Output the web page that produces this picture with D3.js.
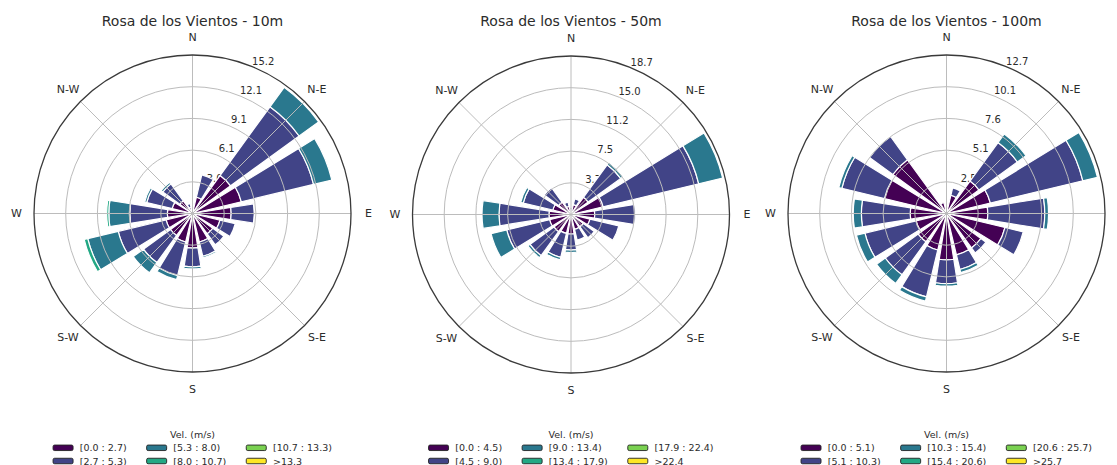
<!DOCTYPE html>
<html>
<head>
<meta charset="utf-8">
<script src="https://cdn.jsdelivr.net/npm/d3@7"></script>
<style>
  body { margin: 0; background: #fff; }
  svg { display: block; }
  text { font-family: "DejaVu Sans", sans-serif; fill: #2b2b2b; }
</style>
</head>
<body>
<svg id="chart" width="1117" height="465"></svg>
<script>
// 16 direction sectors, clockwise from north
const directions = ["N","NNE","NE","ENE","E","ESE","SE","SSE","S","SSW","SW","WSW","W","WNW","NW","NNW"];
const compassLabels = ["N","N-E","E","S-E","S","S-W","W","N-W"];
const binColors = ["#440154","#414487","#2a788e","#22a884","#7ad151","#fde725"];
const legendTitle = "Vel. (m/s)";

// ---- 10 m ----
const title10 = "Rosa de los Vientos - 10m";
const rMax10 = 15.15;
const rTicks10 = ["3.0","6.1","9.1","12.1","15.2"];
const bins10 = ["[0.0 : 2.7)","[2.7 : 5.3)","[5.3 : 8.0)","[8.0 : 10.7)","[10.7 : 13.3)",">13.3"];
const freq10 = [
  [0.4,1.6,4.5,4.8,3.7,2.7,2.4,2.8,3.3,2.8,2.6,2.6,2.4,2.0,1.5,0.6],
  [0.2,2.2,8.1,7.1,2.2,1.5,1.3,1.4,1.8,3.3,3.2,4.7,3.6,2.5,2.0,0.4],
  [0,0,2.3,1.8,0,0,0,0.15,0.2,0.4,1.2,3.0,2.0,0.2,0.2,0.1],
  [0,0,0,0,0,0,0,0,0,0,0,0.35,0.2,0,0,0],
  [0,0,0,0,0,0,0,0,0,0,0,0,0,0,0,0],
  [0,0,0,0,0,0,0,0,0,0,0,0,0,0,0,0]
];

// ---- 50 m ----
const title50 = "Rosa de los Vientos - 50m";
const rMax50 = 18.7;
const rTicks50 = ["3.7","7.5","11.2","15.0","18.7"];
const bins50 = ["[0.0 : 4.5)","[4.5 : 9.0)","[9.0 : 13.4)","[13.4 : 17.9)","[17.9 : 22.4)",">22.4"];
const freq50 = [
  [0.5,1.2,2.5,3.9,2.8,2.3,1.8,1.8,2.3,2.3,2.5,2.6,2.6,2.2,1.8,1.0],
  [0.3,0.7,4.75,11.6,4.8,3.5,1.6,1.3,1.9,2.9,3.5,5.2,5.9,3.6,2.1,0.5],
  [0,0,0.35,2.9,0,0,0,0,0.3,0.3,0.3,1.9,2.0,0.3,0,0],
  [0,0,0,0,0,0,0,0,0,0,0,0,0,0,0,0],
  [0,0,0,0,0,0,0,0,0,0,0,0,0,0,0,0],
  [0,0,0,0,0,0,0,0,0,0,0,0,0,0,0,0]
];

// ---- 100 m ----
const title100 = "Rosa de los Vientos - 100m";
const rMax100 = 12.66;
const rTicks100 = ["2.5","5.1","7.6","10.1","12.7"];
const bins100 = ["[0.0 : 5.1)","[5.1 : 10.3)","[10.3 : 15.4)","[15.4 : 20.6)","[20.6 : 25.7)",">25.7"];
const freq100 = [
  [0.4,1.5,3.2,3.6,3.3,4.8,3.4,3.4,3.7,3.0,2.8,2.5,2.9,5.1,5.3,0.9],
  [0,0.6,3.8,7.6,4.55,1.5,0.5,1.2,1.9,3.85,3.25,4.2,3.9,3.5,2.3,0],
  [0,0,0.85,1.2,0.3,0,0,0.25,0.2,0.35,0.85,0.7,0.65,0.25,0,0],
  [0,0,0,0,0,0,0,0,0,0,0,0,0,0,0,0],
  [0,0,0,0,0,0,0,0,0,0,0,0,0,0,0,0],
  [0,0,0,0,0,0,0,0,0,0,0,0,0,0,0,0]
];

const roses = [
  { title: title10,  rMax: rMax10,  ticks: rTicks10,  bins: bins10,  freq: freq10,  cx: 192.5, cy: 213.5 },
  { title: title50,  rMax: rMax50,  ticks: rTicks50,  bins: bins50,  freq: freq50,  cx: 571,   cy: 214.5 },
  { title: title100, rMax: rMax100, ticks: rTicks100, bins: bins100, freq: freq100, cx: 946.5, cy: 213.5 }
];

const svg = d3.select("#chart");
const R = 158.5;
const opening = 0.8;
const sector = 2 * Math.PI / directions.length;

function drawRose(cfg) {
  const g = svg.append("g").attr("transform", `translate(${cfg.cx},${cfg.cy})`);
  const r = d3.scaleLinear().domain([0, cfg.rMax]).range([0, R]);
  const theta = d3.scaleBand().domain(directions).range([-sector / 2, 2 * Math.PI - sector / 2]);
  const center = d => theta(d) + theta.bandwidth() / 2;
  const tickVals = cfg.ticks.map((t, i) => cfg.rMax * (i + 1) / cfg.ticks.length);
  const labelAngle = Math.PI / 8;

  // radial tick labels (sit beneath the bars)
  g.selectAll("text.rtick").data(tickVals).join("text")
    .attr("class", "rtick")
    .attr("x", v => r(v) * Math.sin(labelAngle) + 10)
    .attr("y", v => -r(v) * Math.cos(labelAngle) - 6)
    .attr("text-anchor", "middle")
    .attr("dominant-baseline", "central")
    .attr("font-size", 10)
    .text((v, i) => cfg.ticks[i]);

  // stacked bars: one wedge per speed bin per direction
  const stacked = [];
  directions.forEach((d, di) => {
    let acc = 0;
    cfg.freq.forEach((series, bi) => {
      const v = series[di];
      if (v > 0) stacked.push({ dir: d, bin: bi, r0: acc, r1: acc + v });
      acc += v;
    });
  });
  const arc = d3.arc()
    .innerRadius(s => r(s.r0))
    .outerRadius(s => r(s.r1))
    .startAngle(s => center(s.dir) - sector * opening / 2)
    .endAngle(s => center(s.dir) + sector * opening / 2);
  g.append("g").selectAll("path").data(stacked).join("path")
    .attr("d", arc)
    .attr("fill", s => binColors[s.bin])
    .attr("stroke", "#ffffff")
    .attr("stroke-width", 1.2)
    .attr("stroke-linejoin", "miter");

  // grid drawn over the bars
  const grid = g.append("g").attr("fill", "none").attr("stroke", "#bcbcbc").attr("stroke-width", 1);
  grid.selectAll("circle").data(tickVals.slice(0, -1)).join("circle").attr("r", v => r(v));
  const spokes = d3.range(8).map(i => i * Math.PI / 4);
  grid.selectAll("line").data(spokes).join("line")
    .attr("x1", 0).attr("y1", 0)
    .attr("x2", a => R * Math.sin(a)).attr("y2", a => -R * Math.cos(a));

  g.append("circle").attr("r", R).attr("fill", "none").attr("stroke", "#3a3a3a").attr("stroke-width", 1.3);

  // compass labels
  g.selectAll("text.dir").data(compassLabels).join("text")
    .attr("class", "dir")
    .attr("x", (t, i) => 176 * Math.sin(i * Math.PI / 4))
    .attr("y", (t, i) => -176 * Math.cos(i * Math.PI / 4))
    .attr("text-anchor", "middle")
    .attr("dominant-baseline", "central")
    .attr("font-size", 11)
    .text(t => t);

  // title
  svg.append("text")
    .attr("x", cfg.cx).attr("y", 21)
    .attr("text-anchor", "middle")
    .attr("dominant-baseline", "central")
    .attr("font-size", 14)
    .text(cfg.title);

  drawLegend(cfg);
}

function drawLegend(cfg) {
  const lg = svg.append("g");
  const fs = 9.5;
  lg.append("text")
    .attr("x", cfg.cx).attr("y", 434.5)
    .attr("text-anchor", "middle")
    .attr("dominant-baseline", "central")
    .attr("font-size", fs)
    .attr("fill", "#3a3a3a")
    .text(legendTitle);

  const patchW = 20, patchH = 5.5, pad = 6.7, colGap = 20;
  const rowsY = [447.8, 461];
  const ncol = Math.ceil(cfg.bins.length / 2);
  // measure label widths per column
  const probe = lg.append("text").attr("font-size", fs);
  const colW = d3.range(ncol).map(c => d3.max([0, 1].map(rw => {
    const lab = cfg.bins[c * 2 + rw];
    if (!lab) return 0;
    probe.text(lab);
    return probe.node().getComputedTextLength();
  })));
  probe.remove();
  const total = d3.sum(colW) + ncol * (patchW + pad) + (ncol - 1) * colGap;
  let x = cfg.cx - total / 2;
  d3.range(ncol).forEach(c => {
    [0, 1].forEach(rw => {
      const bi = c * 2 + rw;
      if (bi >= cfg.bins.length) return;
      lg.append("rect")
        .attr("x", x).attr("y", rowsY[rw] - patchH / 2)
        .attr("width", patchW).attr("height", patchH)
        .attr("rx", 1.5)
        .attr("fill", binColors[bi])
        .attr("stroke", "#222").attr("stroke-width", 0.9);
      lg.append("text")
        .attr("x", x + patchW + pad).attr("y", rowsY[rw])
        .attr("dominant-baseline", "central")
        .attr("font-size", fs)
        .attr("fill", "#3a3a3a")
        .text(cfg.bins[bi]);
    });
    x += patchW + pad + colW[c] + colGap;
  });
}

roses.forEach(drawRose);
</script>
</body>
</html>
